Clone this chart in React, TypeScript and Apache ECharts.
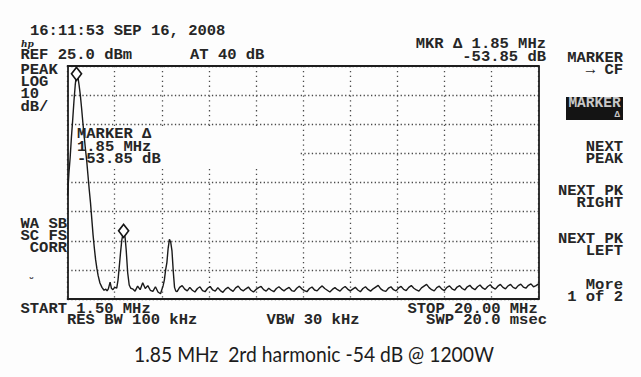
import React, { useEffect, useRef } from "react";
import * as echarts from "echarts";

// ---- Data (frequency in MHz, level in dBm) ----
const startFreq = 1.5;
const stopFreq = 20.0;
const refLevel = 25;
const bottomLevel = -55;

// fundamental + 2nd harmonic region
const signalFreqs = [
  1.5, 1.55, 1.6, 1.65, 1.7, 1.75, 1.8, 1.85, 1.9, 1.95, 2.0, 2.05, 2.1, 2.15, 2.2, 2.25, 2.3, 2.35,
  2.4, 2.45, 2.5, 2.55, 2.6, 2.65, 2.7, 2.77, 2.85, 2.93, 3.0, 3.05, 3.1, 3.17, 3.22, 3.28, 3.35,
  3.43, 3.48, 3.53, 3.58, 3.63, 3.7, 3.76, 3.8, 3.86, 3.92, 3.98,
];
const signalLevels = [
  -19.5, -12, -6.5, 0.5, 6.5, 13, 18.5, 22.3, 21.5, 18.5, 15, 10.5, 5.5, 1, -3.5, -7.5, -12.5, -17.5,
  -22, -27.5, -33, -37.5, -41.5, -44.5, -47, -49.5, -51, -52, -51.6, -52.2, -51.5, -49.2, -51.3, -51.8, -51,
  -51.3, -48.5, -43.9, -39, -34.7, -31.6, -34, -38, -46, -50.2, -51.3,
];

// noise between 2nd and 3rd harmonic
const noiseAStart = 4.05;
const noiseAStep = 0.1;
const noiseALevels = [-51.5, -52.3, -50.6, -51.8, -49.4, -51.4, -50.4, -52.0, -52.4, -50.8, -52.6, -53.2];

// 3rd harmonic region
const harm3Freqs = [5.2, 5.25, 5.3, 5.35, 5.4, 5.45, 5.5, 5.55, 5.6, 5.65, 5.7, 5.75, 5.8];
const harm3Levels = [-51.8, -50.5, -48.5, -45, -42.5, -37.5, -34.5, -35.5, -38.5, -45.5, -51, -52.3, -52.5];

// noise floor up to the stop frequency
const noiseBStart = 5.9;
const noiseBStep = 0.1;
const noiseBLevels = [
  -51.0, -50.4, -51.6, -52.2, -51.0, -52.0, -52.6, -51.4, -50.8, -52.1, -52.5, -51.3, -50.7, -51.9, -52.3, -51.1, -52.1, -52.7, -51.6, -51.0,
  -51.8, -52.4, -51.2, -50.6, -51.7, -52.2, -51.5, -50.9, -52.0, -52.6, -51.7, -51.1, -50.7, -51.8, -52.3, -51.3, -52.0, -52.5, -51.4, -50.8,
  -51.6, -52.2, -51.5, -51.0, -52.1, -52.4, -51.3, -50.6, -51.5, -52.1, -52.5, -51.4, -50.9, -51.9, -52.2, -51.2, -50.5, -51.4, -52.0, -52.6,
  -51.7, -51.1, -51.8, -52.3, -51.3, -50.7, -51.6, -52.2, -51.6, -51.0, -51.9, -52.5, -51.4, -50.8, -51.7, -52.3, -51.5, -50.9, -50.3, -51.5,
  -52.1, -52.4, -51.3, -50.8, -51.8, -52.2, -51.2, -50.7, -51.7, -52.1, -51.0, -50.4, -51.3, -51.9, -52.3, -51.2, -50.6, -50.0, -51.1, -51.8,
  -52.2, -51.1, -50.6, -51.6, -52.1, -51.0, -50.5, -51.5, -52.0, -50.9, -50.4, -51.4, -51.9, -50.8, -50.3, -51.3, -51.8, -50.8, -50.2, -51.2,
  -51.7, -50.7, -50.1, -51.1, -51.6, -50.6, -50.0, -51.0, -51.5, -50.5, -50.0, -51.0, -51.4, -50.4, -49.9, -50.9, -51.3, -50.3, -49.8, -50.8,
  -50.4, -49.8,
];

// markers (frequencies of the marked peaks)
const markerFreqs = [1.85, 3.7];

const xDivisions = 10;
const yDivisions = 8;

const MONO = "'Liberation Mono', 'DejaVu Sans Mono', monospace";
const INK = "#262626";
const BG = "#fdfdfd";

function buildTrace(): number[][] {
  const pts: number[][] = [];
  signalFreqs.forEach((f, i) => pts.push([f, signalLevels[i]]));
  noiseALevels.forEach((v, i) => pts.push([+(noiseAStart + i * noiseAStep).toFixed(3), v]));
  harm3Freqs.forEach((f, i) => pts.push([f, harm3Levels[i]]));
  noiseBLevels.forEach((v, i) => pts.push([+(noiseBStart + i * noiseBStep).toFixed(3), v]));
  return pts;
}

// single- or multi-line monospace text; y is the centre of the first line
function txt(text: string, x: number, y: number, align: string = "left", lh: number = 12, extra: any = {}) {
  return {
    type: "text",
    z: 10,
    style: {
      text,
      x,
      y: y - lh / 2,
      fill: INK,
      font: `bold 15.5px ${MONO}`,
      lineHeight: lh,
      textAlign: align,
      textVerticalAlign: "top",
      ...extra,
    },
  };
}

export default function App() {
  const ref = useRef<HTMLDivElement>(null);

  useEffect(() => {
    document.body.style.margin = "0";
    document.body.style.overflow = "hidden";
    if (!ref.current) return;
    const chart = echarts.init(ref.current, undefined, { renderer: "svg" });
    const trace = buildTrace();
    const markerData = markerFreqs.map((f) => {
      const idx = signalFreqs.indexOf(f);
      return { coord: [f, signalLevels[idx]] };
    });

    const frameLine = { show: true, onZero: false, lineStyle: { color: "#1e1e1e", width: 1.8 } };

    const option: any = {
      animation: false,
      backgroundColor: BG,
      grid: { left: 67.6, top: 66, width: 471, height: 233, show: false },
      xAxis: [
        {
          type: "value",
          min: startFreq,
          max: stopFreq,
          position: "bottom",
          axisLine: frameLine,
          axisTick: { show: false },
          axisLabel: { show: false },
          splitLine: { show: false },
        },
        {
          type: "value",
          min: 0,
          max: xDivisions,
          interval: 1,
          position: "top",
          axisLine: frameLine,
          axisTick: { show: false },
          axisLabel: { show: false },
          splitLine: { show: true, lineStyle: { color: "#4a4a4a", width: 1.3, type: [1.3, 3.6] } },
        },
      ],
      yAxis: [
        {
          type: "value",
          min: bottomLevel,
          max: refLevel,
          position: "left",
          axisLine: frameLine,
          axisTick: { show: false },
          axisLabel: { show: false },
          splitLine: { show: false },
        },
        {
          type: "value",
          min: 0,
          max: yDivisions,
          interval: 1,
          position: "right",
          axisLine: frameLine,
          axisTick: { show: false },
          axisLabel: { show: false },
          splitLine: { show: true, lineStyle: { color: "#4a4a4a", width: 1.3, type: [1.3, 2.4] } },
        },
      ],
      series: [
        {
          type: "line",
          xAxisIndex: 0,
          yAxisIndex: 0,
          data: trace,
          showSymbol: false,
          z: 5,
          clip: true,
          lineStyle: { color: "#1a1a1a", width: 1.4 },
          markPoint: {
            symbol: "diamond",
            symbolSize: [10, 13],
            z: 6,
            itemStyle: { color: "#ffffff", borderColor: "#151515", borderWidth: 1.7 },
            label: { show: false },
            data: markerData,
          },
        },
      ],
      graphic: [
        // blanked area under the on-screen marker readout
        {
          type: "rect",
          z: 1,
          shape: { x: 69, y: 126, width: 231, height: 42 },
          style: { fill: BG },
        },
        txt("16:11:53 SEP 16, 2008", 30, 31, "left", 14),
        {
          type: "text",
          z: 10,
          style: {
            text: "hp",
            x: 21,
            y: 43.5,
            fill: INK,
            font: "italic bold 9px 'DejaVu Serif', serif",
            textAlign: "left",
            textVerticalAlign: "middle",
          },
        },
        txt("REF 25.0 dBm", 20.5, 55, "left", 14),
        txt("AT 40 dB", 190, 55, "left", 14),
        txt("PEAK\nLOG\n10\ndB/", 20.5, 70, "left", 12.2),
        txt("MKR Δ 1.85 MHz\n-53.85 dB", 546, 43.5, "right", 13.5),
        txt("MARKER\n→ CF", 623, 58, "right", 11.5),
        {
          type: "rect",
          z: 9,
          shape: { x: 566, y: 97, width: 57, height: 23 },
          style: { fill: "#141414" },
        },
        txt("MARKER", 594.5, 102.5, "center", 14, { fill: "#c8c8c8", font: `bold 14.5px ${MONO}` }),
        txt("Δ", 620, 114.5, "right", 9, { fill: "#c8c8c8", font: `bold 9px ${MONO}` }),
        txt("NEXT\nPEAK", 623, 147, "right", 12),
        txt("NEXT PK\nRIGHT", 623, 191, "right", 12),
        txt("NEXT PK\nLEFT", 623, 238.5, "right", 12),
        txt("More\n1 of 2", 623, 285, "right", 12),
        txt("WA SB\nSC FS\n CORR", 20.5, 224, "left", 11.75),
        txt("ᵕ", 31.5, 279, "center", 10, { font: `bold 10px 'DejaVu Sans', sans-serif` }),
        txt("START 1.50 MHz\n     RES BW 100 kHz", 20.5, 308.5, "left", 11),
        txt("VBW 30 kHz", 266.5, 319.5, "left", 11),
        txt("STOP 20.00 MHz\n  SWP 20.0 msec", 407.5, 308.5, "left", 11),
        txt("MARKER Δ\n1.85 MHz\n-53.85 dB", 77, 134, "left", 12.5),
        {
          type: "text",
          z: 10,
          x: 314,
          y: 354,
          scaleX: 0.92,
          style: {
            text: "1.85 MHz  2rd harmonic -54 dB @ 1200W",
            x: 0,
            y: 0,
            fill: "#1c1c1c",
            font: "400 21px Lato, 'Open Sans', sans-serif",
            textAlign: "center",
            textVerticalAlign: "middle",
          },
        },
      ],
    };

    chart.setOption(option);
    return () => chart.dispose();
  }, []);

  return <div ref={ref} style={{ width: 641, height: 377 }} />;
}
